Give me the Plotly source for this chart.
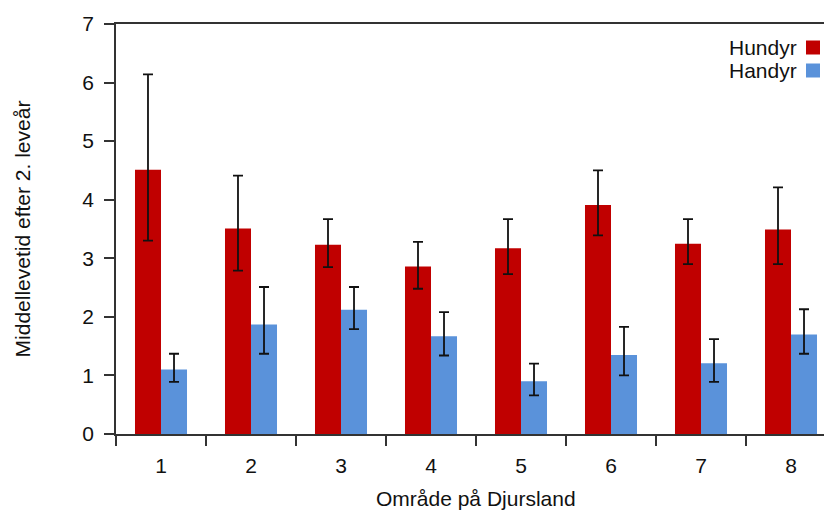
import plotly.graph_objects as go

areas = ["1", "2", "3", "4", "5", "6", "7", "8"]
hundyr = [4.51, 3.51, 3.23, 2.86, 3.17, 3.91, 3.25, 3.49]
hundyr_hi = [6.14, 4.41, 3.67, 3.28, 3.67, 4.50, 3.67, 4.21]
hundyr_lo = [3.30, 2.79, 2.85, 2.48, 2.73, 3.39, 2.90, 2.90]
handyr = [1.10, 1.87, 2.12, 1.67, 0.90, 1.35, 1.21, 1.70]
handyr_hi = [1.37, 2.51, 2.51, 2.08, 1.20, 1.83, 1.62, 2.13]
handyr_lo = [0.89, 1.37, 1.79, 1.34, 0.66, 1.00, 0.89, 1.37]
y_ticks = [0, 1, 2, 3, 4, 5, 6, 7]

RED = "#C00000"
BLUE = "#5A92DA"
FONT = "Liberation Sans, Arial, sans-serif"
FS = 21

def err(vals, hi, lo, color="#111111"):
    return dict(type="data", symmetric=False,
                array=[h - v for h, v in zip(hi, vals)],
                arrayminus=[v - l for v, l in zip(vals, lo)],
                color=color, thickness=1.8, width=5)

fig = go.Figure()
fig.add_trace(go.Bar(x=areas, y=hundyr, name="Hundyr", marker_color=RED,
                     marker_line_width=0, error_y=err(hundyr, hundyr_hi, hundyr_lo)))
fig.add_trace(go.Bar(x=areas, y=handyr, name="Handyr", marker_color=BLUE,
                     marker_line_width=0, error_y=err(handyr, handyr_hi, handyr_lo)))

# legend drawn as text + square (square to the right of the text)
for i, (name, col) in enumerate([("Hundyr", RED), ("Handyr", BLUE)]):
    yc = 47.5 + i * 23
    fig.add_annotation(xref="paper", yref="paper", x=(799 - 116) / 708,
                       y=1 - (yc - 24) / 410, text=name, showarrow=False,
                       xanchor="right", yanchor="middle",
                       font=dict(size=FS, color="#111", family=FONT))
    fig.add_shape(type="rect", xref="paper", yref="paper",
                  x0=(806 - 116) / 708, x1=(820 - 116) / 708,
                  y0=1 - (yc + 7 - 24) / 410, y1=1 - (yc - 7 - 24) / 410,
                  fillcolor=col, line_width=0)

# x-axis title (centred on the full, partly cropped category axis)
fig.add_annotation(xref="paper", yref="paper", x=(476 - 116) / 708,
                   y=1 - (499 - 24) / 410, text="Område på Djursland",
                   showarrow=False, xanchor="center", yanchor="middle",
                   font=dict(size=FS, color="#111", family=FONT))

fig.update_layout(
    width=824, height=513,
    margin=dict(l=116, r=0, t=24, b=79),
    barmode="group", bargap=0.422, bargroupgap=0,
    plot_bgcolor="white", paper_bgcolor="white",
    showlegend=False,
    font=dict(family=FONT, size=FS, color="#111"),
    xaxis=dict(type="category", range=[-0.5, -0.5 + 708 / 90],
               automargin=False,
               tickson="boundaries", ticks="outside", ticklen=10,
               tickcolor="#333", tickwidth=1.5, ticklabelstandoff=12,
               showline=True, linecolor="#333", linewidth=1.5, mirror=True,
               showgrid=False, zeroline=False),
    yaxis=dict(range=[0, 7], tickvals=y_ticks, ticks="outside", ticklen=10,
               automargin=False,
               tickcolor="#333", tickwidth=1.5, ticklabelstandoff=6,
               showline=True, linecolor="#333", linewidth=1.5,
               showgrid=False, zeroline=False,
               title=dict(text="Middellevetid efter 2. leveår", standoff=46,
                          font=dict(size=FS))),
)

fig.write_html("out.html")
